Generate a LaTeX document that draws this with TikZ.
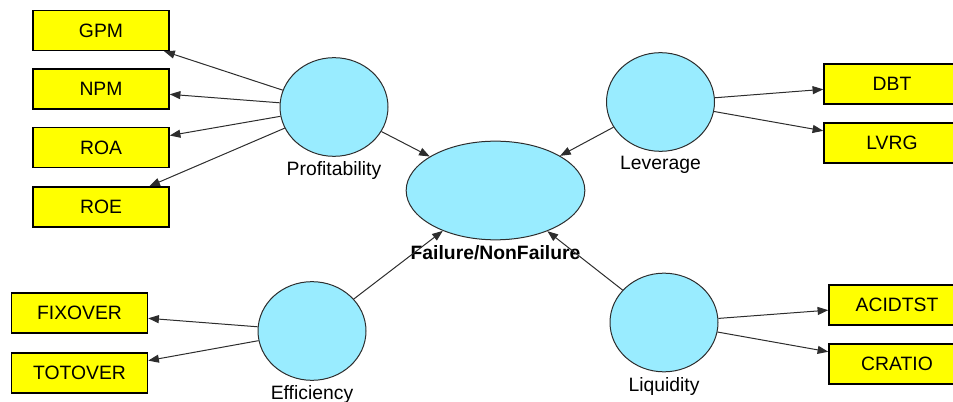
\documentclass[tikz,border=0pt]{standalone}
\usepackage{fontspec}
\setmainfont{Liberation Sans}
\usetikzlibrary{shapes.geometric,arrows.meta}

\definecolor{latentfill}{RGB}{153,236,255}
\definecolor{boxfill}{RGB}{255,255,0}
\definecolor{edgegray}{RGB}{45,45,45}

\tikzset{every picture/.style={line width=0.75pt}}
\tikzset{
  latent/.style={ellipse, draw=edgegray, fill=latentfill, inner sep=0pt, minimum width=81pt, minimum height=74pt},
  indicator/.style={rectangle, draw=black, line width=1.1pt, fill=boxfill, inner sep=0pt, minimum width=102pt, minimum height=30pt, font=\fontsize{14.5}{17}\selectfont},
  lbl/.style={font=\fontsize{14.5}{17}\selectfont, inner sep=0.75pt, label distance=2.5pt},
  link/.style={draw=edgegray, line width=0.75pt, -{Triangle[length=8pt,width=6pt]}}
}

\begin{document}
\begin{tikzpicture}[x=0.75pt,y=0.75pt,yscale=-1,xscale=1]
\useasboundingbox (0,0) rectangle (953,402);

%Shape: Ellipse [id:prof]
\node [latent, label={[lbl]below:Profitability}] (prof) at (334,107) {};
%Shape: Ellipse [id:lev]
\node [latent, label={[lbl]below:Leverage}] (lev) at (660.5,102) {};
%Shape: Ellipse [id:eff]
\node [latent, label={[lbl]below:Efficiency}] (eff) at (312,331) {};
%Shape: Ellipse [id:liq]
\node [latent, label={[lbl]below:Liquidity}] (liq) at (664,322.5) {};
%Shape: Ellipse [id:fail]
\node [latent, minimum width=134pt, label={[lbl,font=\fontsize{14.5}{17}\selectfont\bfseries]below:Failure/NonFailure}] (fail) at (495.5,190.5) {};

%Shape: Rectangle [id:gpm]
\node [indicator] (gpm) at (101,30.5) {GPM};
%Shape: Rectangle [id:npm]
\node [indicator] (npm) at (101,89) {NPM};
%Shape: Rectangle [id:roa]
\node [indicator] (roa) at (101,147.5) {ROA};
%Shape: Rectangle [id:roe]
\node [indicator] (roe) at (101,207) {ROE};
%Shape: Rectangle [id:fixover]
\node [indicator] (fixover) at (79.5,313) {FIXOVER};
%Shape: Rectangle [id:totover]
\node [indicator] (totover) at (79.5,373) {TOTOVER};
%Shape: Rectangle [id:dbt]
\node [indicator] (dbt) at (892,84) {DBT};
%Shape: Rectangle [id:lvrg]
\node [indicator] (lvrg) at (892,143) {LVRG};
%Shape: Rectangle [id:acidtst]
\node [indicator] (acidtst) at (897,305) {ACIDTST};
%Shape: Rectangle [id:cratio]
\node [indicator] (cratio) at (897,364) {CRATIO};

%Straight Lines
\draw [link] (prof) -- (gpm);
\draw [link] (prof) -- (npm);
\draw [link] (prof) -- (roa);
\draw [link] (prof) -- (roe);
\draw [link] (eff) -- (fixover);
\draw [link] (eff) -- (totover);
\draw [link] (lev) -- (dbt);
\draw [link] (lev) -- (lvrg);
\draw [link] (liq) -- (acidtst);
\draw [link] (liq) -- (cratio);
%Straight Lines
\draw [link] (prof) -- (fail);
\draw [link] (lev) -- (fail);
\draw [link] (eff) -- (fail);
\draw [link] (liq) -- (fail);

\end{tikzpicture}
\end{document}
